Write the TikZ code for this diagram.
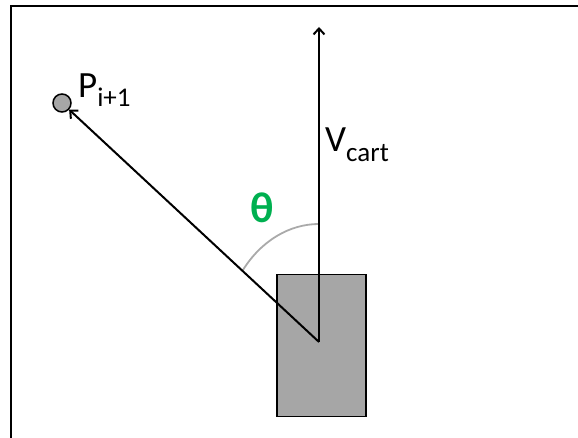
\documentclass[tikz,border=0pt]{standalone}
\usepackage{fontspec}
\setmainfont{Carlito}
\usepackage{xcolor}
\usepackage{tikz}
\usetikzlibrary{arrows.meta,positioning}
\definecolor{cartgray}{RGB}{166,166,166}
\definecolor{arcgray}{RGB}{170,170,170}
\definecolor{thetagreen}{RGB}{0,176,80}
\tikzset{
  cartbox/.style={draw, line width=1.5pt, fill=cartgray, minimum width=89pt,
    minimum height=142pt, inner sep=0pt},
  pointdot/.style={draw, circle, line width=1.5pt, fill=cartgray,
    minimum size=18pt, inner sep=0pt},
  vecarrw/.style={-{Straight Barb[length=6pt, width=11pt]}, line width=2pt},
  anglearc/.style={draw=arcgray, line width=1.8pt},
  lbl/.style={inner sep=0pt, font=\fontsize{37}{37}\selectfont},
}

\begin{document}
\begin{tikzpicture}[x=1pt, y=1pt]
  \useasboundingbox (0,0) rectangle (578,438);
  % frame (only left and top visible)
  \draw[line width=2pt] (11,0) -- (11,432) -- (578,432);

  \node[cartbox] (cart) at (321.5,92.5) {};
  \coordinate (pivot) at (319,96);
  \coordinate (vtop) at (319,411);
  \node[pointdot] (pnext) at (62,335) {};

  \draw[anglearc] ([yshift=118pt]pivot)
    arc[start angle=90, end angle=142.4, x radius=96pt, y radius=118pt];

  \draw[vecarrw] (pivot) -- (vtop);
  \draw[vecarrw] (pivot) -- (pnext);

  \node[lbl, anchor=base west] (plabel) at (78,340)
    {P\raisebox{-9pt}{\fontsize{27}{27}\selectfont i+1}};
  \node[lbl, anchor=base west] (vlabel) at (325,286)
    {V\raisebox{-10pt}{\fontsize{27}{27}\selectfont cart}};
  \node[inner sep=0pt, text=thetagreen, font=\fontsize{43}{43}\selectfont\bfseries]
    (theta) at (262,230) {θ};
\end{tikzpicture}
\end{document}
